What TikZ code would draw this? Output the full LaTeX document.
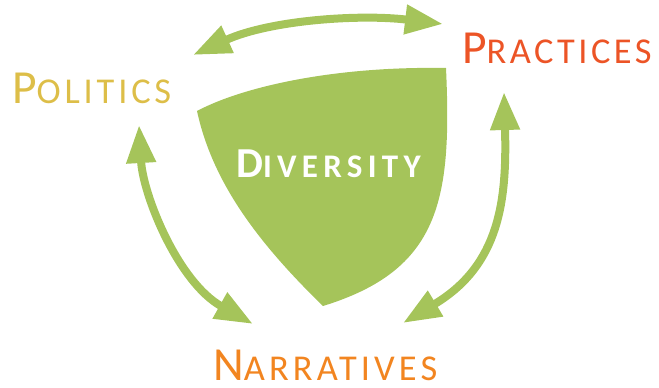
\documentclass[tikz,border=0pt]{standalone}
\usepackage{fontspec}
\setmainfont{Carlito}
\usetikzlibrary{positioning,arrows.meta}

\definecolor{leaf}{HTML}{A5C45A}
\definecolor{polgold}{HTML}{DDBE48}
\definecolor{pracred}{HTML}{EC5426}
\definecolor{narrorange}{HTML}{F28520}

% first letter big, the rest as smaller capitals, with tracking #5
\newcommand{\bigsmall}[5]{{\fontsize{#1}{#1}\selectfont\addfontfeatures{LetterSpace=#5}#3}%
  {\fontsize{#2}{#2}\selectfont\addfontfeatures{LetterSpace=#5}#4}}

\begin{document}
\begin{tikzpicture}[x=1pt,y=-1pt,
  link/.style={leaf, line width=8pt,
    {Triangle[length=38pt,width=28pt]}-{Triangle[length=38pt,width=28pt]}},
  word/.style={anchor=base west, inner sep=0pt}]
  \useasboundingbox (0,0) rectangle (659,388);
  % the shield
  \fill[leaf] (197,111) .. controls (240,88) and (330,66) .. (446,68)
    .. controls (452,200) and (440,270) .. (323,306)
    .. controls (255,240) and (212,180) .. (197,111) -- cycle;
  \node[word, text=white] (diversity) at (236,177)
    {\bfseries\bigsmall{42.7}{33}{D}{IVERSITY}{16}};
  % the three labels
  \node[word, text=polgold] (politics) at (12,103) {\bigsmall{47.5}{36.4}{P}{OLITICS}{10.5}};
  \node[word, text=pracred] (practices) at (462,63) {\bigsmall{47.5}{36.4}{P}{RACTICES}{9.5}};
  \node[word, text=narrorange] (narratives) at (213,380) {\bigsmall{47.5}{36.4}{N}{ARRATIVES}{11.3}};
  % arrow ends
  \coordinate (pol-a) at (193,55);
  \coordinate (pra-a) at (443,24);
  \coordinate (pol-b) at (139,125);
  \coordinate (nar-a) at (253,324);
  \coordinate (pra-b) at (504,92);
  \coordinate (nar-b) at (403,323);
  % double arrows between the labels
  \foreach \s/\p/\q/\e in {pol-a/{270,20}/{360,14}/pra-a,
                           pol-b/{143,195}/{178,282}/nar-a,
                           pra-b/{507,200}/{500,265}/nar-b} {
    \draw[link] (\s) .. controls (\p) and (\q) .. (\e);
  }
\end{tikzpicture}
\end{document}
